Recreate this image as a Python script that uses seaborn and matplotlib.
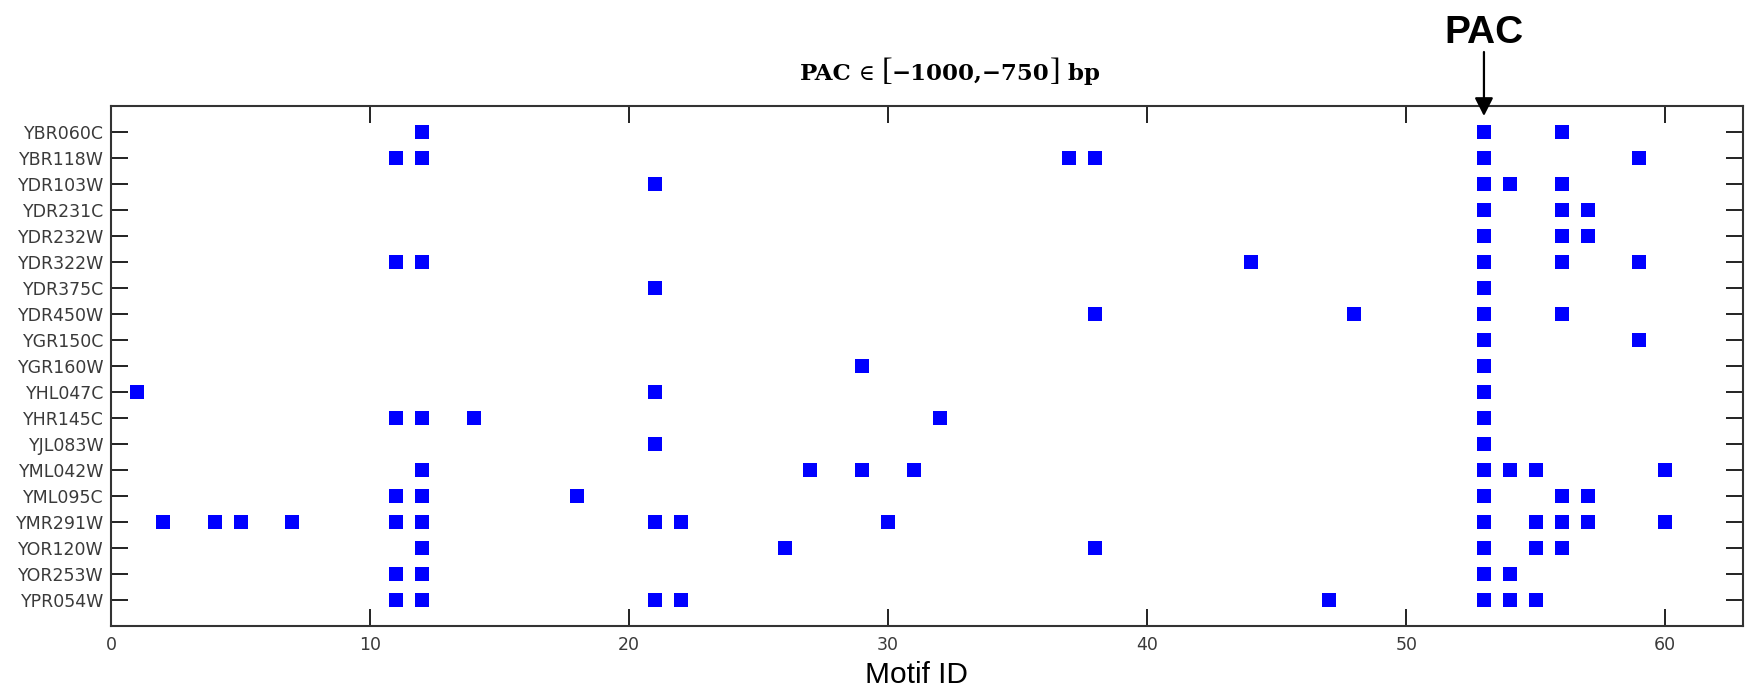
import numpy as np
import pandas as pd
import matplotlib
matplotlib.use("Agg")
import matplotlib.pyplot as plt
import seaborn as sns

# ---------------- data ----------------
genes = ["YBR060C", "YBR118W", "YDR103W", "YDR231C", "YDR232W", "YDR322W",
         "YDR375C", "YDR450W", "YGR150C", "YGR160W", "YHL047C", "YHR145C",
         "YJL083W", "YML042W", "YML095C", "YMR291W", "YOR120W", "YOR253W",
         "YPR054W"]

motif_ids = [
    [12, 53, 56],                                          # YBR060C
    [11, 12, 37, 38, 53, 59],                              # YBR118W
    [21, 53, 54, 56],                                      # YDR103W
    [53, 56, 57],                                          # YDR231C
    [53, 56, 57],                                          # YDR232W
    [11, 12, 44, 53, 56, 59],                              # YDR322W
    [21, 53],                                              # YDR375C
    [38, 48, 53, 56],                                      # YDR450W
    [53, 59],                                              # YGR150C
    [29, 53],                                              # YGR160W
    [1, 21, 53],                                           # YHL047C
    [11, 12, 14, 32, 53],                                  # YHR145C
    [21, 53],                                              # YJL083W
    [12, 27, 29, 31, 53, 54, 55, 60],                      # YML042W
    [11, 12, 18, 53, 56, 57],                              # YML095C
    [2, 4, 5, 7, 11, 12, 21, 22, 30, 53, 55, 56, 57, 60],  # YMR291W
    [12, 26, 38, 53, 55, 56],                              # YOR120W
    [11, 12, 53, 54],                                      # YOR253W
    [11, 12, 21, 22, 47, 53, 54, 55],                      # YPR054W
]

x_ticks = [0, 10, 20, 30, 40, 50, 60]
pac_motif = 53
title_parts = ["PAC", " \u2208 ", "[", "\u22121000,\u2212750", "]", " bp"]
x_label = "Motif ID"

rows = []
for i, (g, ms) in enumerate(zip(genes, motif_ids)):
    for m in ms:
        rows.append({"gene": g, "row": i + 1, "motif": m})
df = pd.DataFrame(rows)

# ---------------- figure ----------------
sns.set_style("white")
W, H = 1747, 691
fig = plt.figure(figsize=(W / 100, H / 100), dpi=100)
ax = fig.add_axes([111 / W, 1 - 626 / H, (1743 - 111) / W, (626 - 106) / H])

sns.scatterplot(data=df, x="motif", y="row", marker="s", s=100,
                color="#0000ff", linewidth=0, ax=ax, legend=False)

ax.set_xlim(0, 63)
ax.set_ylim(len(genes) + 1, 0)
ax.set_xticks(x_ticks)
ax.set_xticklabels([str(t) for t in x_ticks])
ax.set_yticks(np.arange(1, len(genes) + 1))
ax.set_yticklabels(genes)
ax.set_ylabel("")

ax.tick_params(axis="both", which="both", direction="in", length=12, width=1.4,
               color="#222222", top=True, right=True, left=True, bottom=True,
               labelsize=12.5, labelcolor="#3a3a3a")
ax.tick_params(axis="y", pad=5, labelsize=12.5)
ax.tick_params(axis="x", pad=7)
for sp in ax.spines.values():
    sp.set_visible(True)
    sp.set_linewidth(1.5)
    sp.set_color("#333333")

ax.set_xlabel(x_label, fontsize=21.5, family=["Liberation Sans", "DejaVu Sans"],
              color="black")
ax.xaxis.set_label_coords((916 - 111) / (1743 - 111), (626 - 683) / 520)
ax.xaxis.label.set_va("baseline")

# PAC arrow and label
ax.annotate("", xy=(pac_motif, 1 - 10 / 520), xycoords=("data", "axes fraction"),
            xytext=(pac_motif, 1 + 54 / 520), textcoords=("data", "axes fraction"),
            arrowprops=dict(arrowstyle="-|>,head_length=0.55,head_width=0.28",
                            mutation_scale=20, lw=1.6, color="black",
                            shrinkA=0, shrinkB=0),
            annotation_clip=False)
ax.text(pac_motif, 1 + 63 / 520, "PAC", transform=ax.get_xaxis_transform(),
        ha="center", va="baseline", fontsize=28, fontweight="bold", color="black",
        family=["Liberation Sans", "DejaVu Sans"], clip_on=False)

# title assembled from pieces
lib = ["Liberation Serif", "DejaVu Serif"]
dvs = ["DejaVu Serif"]
styles = [(16.5, "bold", dvs), (15.5, "normal", dvs), (23, "normal", lib),
          (16.5, "bold", dvs), (23, "normal", lib), (16.5, "bold", dvs)]
yb = 1 - 80 / H
texts = []
for s, (sz, w, fam) in zip(title_parts, styles):
    texts.append(fig.text(0, yb, s, fontsize=sz, fontweight=w, family=fam,
                          color="black", ha="left", va="baseline"))
fig.canvas.draw()
r = fig.canvas.get_renderer()
widths = [t.get_window_extent(r).width for t in texts]
x0 = 950 - sum(widths) / 2
for t, wd in zip(texts, widths):
    t.set_x(x0 / W)
    x0 += wd

fig.savefig("out.png", dpi=100)
